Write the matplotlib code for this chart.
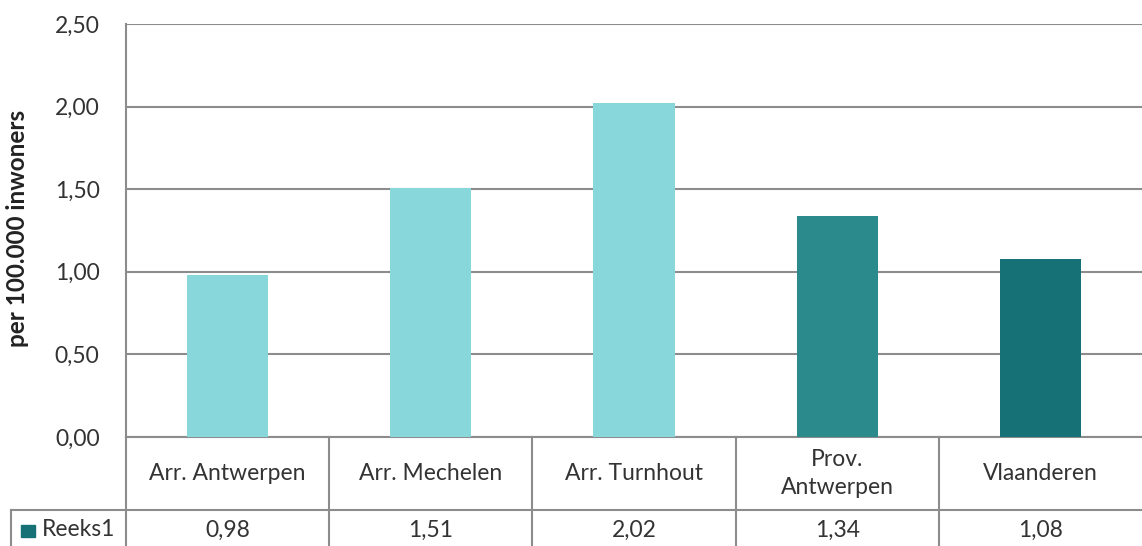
import matplotlib
matplotlib.use('Agg')
import matplotlib.pyplot as plt
import matplotlib.transforms as mtransforms

# chart data
categories = ['Arr. Antwerpen', 'Arr. Mechelen', 'Arr. Turnhout', 'Prov.\nAntwerpen', 'Vlaanderen']
values = [0.98, 1.51, 2.02, 1.34, 1.08]
value_labels = ['0,98', '1,51', '2,02', '1,34', '1,08']
series_name = 'Reeks1'
y_ticks = [0.0, 0.5, 1.0, 1.5, 2.0, 2.5]
y_tick_labels = ['0,00', '0,50', '1,00', '1,50', '2,00', '2,50']
bar_colors = ['#88D7DB', '#88D7DB', '#88D7DB', '#2B8A8C', '#157176']
legend_color = '#157176'

plt.rcParams['font.family'] = ['Lato', 'DejaVu Sans']
grey = '#8C8C8C'
txt = '#333333'
fs = 16.5

W, H = 1142, 546
fig = plt.figure(figsize=(W / 100, H / 100), dpi=100)
left, right, top, bottom = 126, 1142, 24, 437
ax = fig.add_axes([left / W, 1 - bottom / H, (right - left) / W, (bottom - top) / H])

x = range(len(categories))
ax.bar(x, values, width=0.4, color=bar_colors, zorder=3)
ax.set_xlim(-0.5, len(categories) - 0.5)
ax.set_ylim(0, 2.5)
ax.set_yticks(y_ticks)
ax.set_yticklabels(y_tick_labels, fontsize=fs, color=txt)
ax.tick_params(axis='y', length=0, pad=19)
ax.set_xticks([])
ax.grid(axis='y', color=grey, linewidth=1.5, zorder=0)
for s in ['top', 'right', 'bottom']:
    ax.spines[s].set_visible(False)
ax.spines['left'].set_color(grey)
ax.spines['left'].set_linewidth(1.5)
ax.set_ylabel('per 100.000 inwoners', fontsize=17.5, fontweight='bold', color='#222222')
ax.yaxis.label.set_va('center')
ax.yaxis.set_label_coords(-108 / (right - left), (437 - 228) / (bottom - top))

# data table under the axis
trans = mtransforms.blended_transform_factory(ax.transData, ax.transAxes)
ph = bottom - top
cat_w = (right - left) / len(categories)
row1 = (bottom - 510) / ph
row2 = (bottom - 546) / ph - 0.02
line_kw = dict(color=grey, linewidth=1.5, clip_on=False)

# horizontal lines
ax.plot([-0.5, len(categories) - 0.5], [0, 0], transform=trans, **line_kw)
x_far_left = -0.5 - (left - 11) / cat_w
ax.plot([x_far_left, len(categories) - 0.5], [row1, row1], transform=trans, **line_kw)
# vertical lines
for i in range(len(categories)):
    ax.plot([i - 0.5, i - 0.5], [0, row2], transform=trans, **line_kw)
ax.plot([x_far_left, x_far_left], [row1, row2], transform=trans, **line_kw)

val_y = (437 - 530) / ph
for i, (c, v) in enumerate(zip(categories, value_labels)):
    ax.text(i, row1 / 2, c, transform=trans, ha='center', va='center',
            fontsize=fs, color=txt, linespacing=1.4)
    ax.text(i, val_y, v, transform=trans, ha='center', va='center',
            fontsize=fs, color=txt)

# legend key + series name
key_x = x_far_left + 10 / cat_w
ax.add_patch(plt.Rectangle((key_x, (437 - 537) / ph), 14 / cat_w, 12 / ph, transform=trans,
                           color=legend_color, clip_on=False))
ax.text(key_x + 21 / cat_w, val_y, series_name, transform=trans,
        ha='left', va='center', fontsize=fs, color=txt)

fig.savefig('out.png', dpi=100)
